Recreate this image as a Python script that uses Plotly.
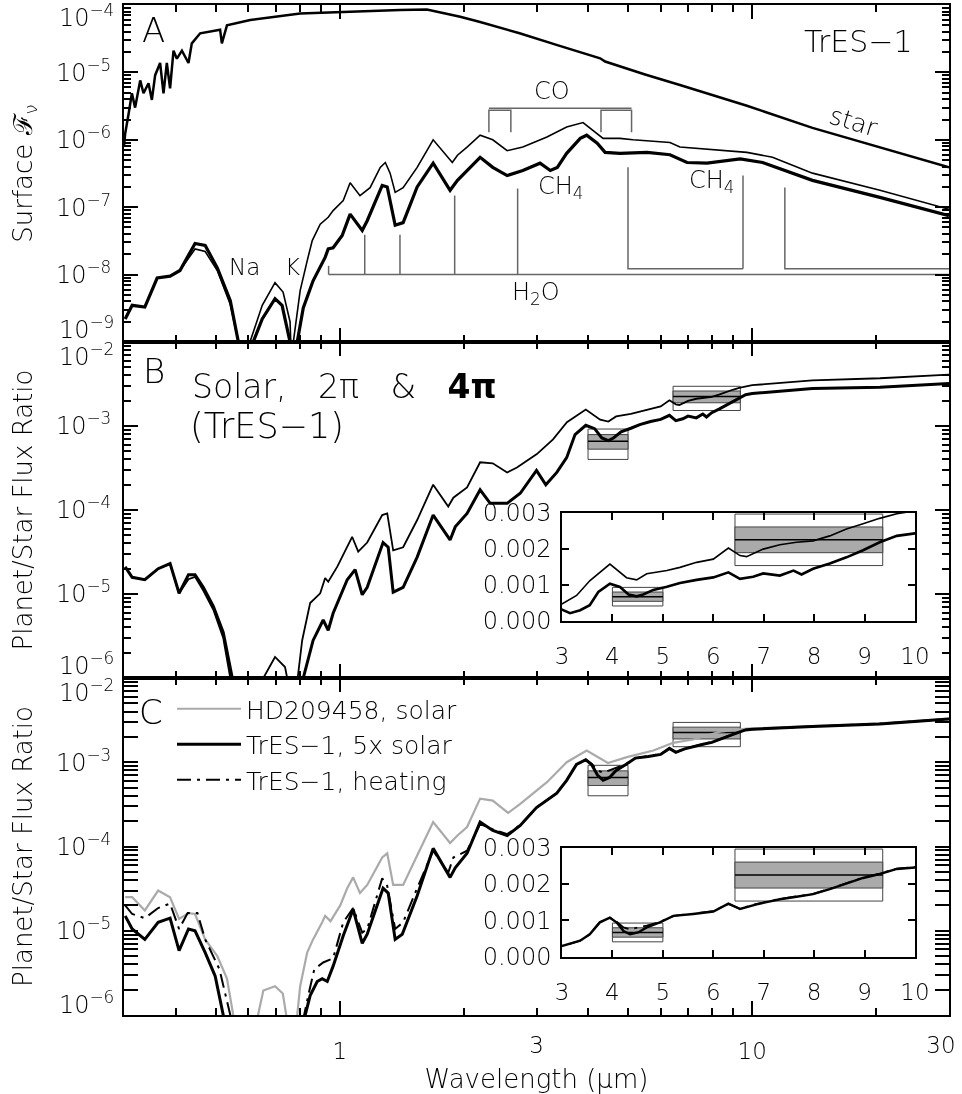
import numpy as np
import plotly.graph_objects as go

# ---------------- DATA ----------------
# Panel A: stellar surface flux
star_wl = [0.300, 0.302, 0.3077, 0.3135, 0.3192, 0.3284, 0.3345, 0.344, 0.3505, 0.357, 0.367, 0.374,
           0.381, 0.388, 0.3955, 0.403, 0.4145, 0.430, 0.438, 0.459, 0.513, 0.518, 0.533, 0.607,
           0.802, 1.003, 1.40, 1.627, 1.96, 2.19, 2.73, 3.40, 4.28, 4.40, 5.50, 6.68, 9.71, 14.0, 20.4, 30.0]
star_flux = [8e-7, 1.24e-6, 2.4e-6, 4.9e-6, 3.0e-6, 7.6e-6, 4.9e-6, 6.9e-6, 3.9e-6, 9.1e-6, 1.38e-5, 4.9e-6,
             1.38e-5, 5.8e-6, 2.1e-5, 1.6e-5, 2.1e-5, 1.38e-5, 2.7e-5, 3.8e-5, 4.3e-5, 2.7e-5, 5.0e-5, 6.0e-5,
             7.5e-5, 7.9e-5, 8.4e-5, 8.6e-5, 6.7e-5, 5.6e-5, 3.8e-5, 2.5e-5, 1.62e-5, 1.45e-5, 9.3e-6, 6.5e-6,
             3.2e-6, 1.5e-6, 7.8e-7, 3.9e-7]

# Panel A: planet surface flux, 2pi (thin) and 4pi (thick)
pA2_wl = [0.302, 0.314, 0.337, 0.361, 0.388, 0.41, 0.446, 0.472, 0.505, 0.543, 0.568, 0.59, 0.606, 0.649,
          0.697, 0.729, 0.758, 0.764, 0.772, 0.802, 0.834, 0.858, 0.897, 0.938, 0.964, 1.02, 1.06, 1.12,
          1.185, 1.254, 1.29, 1.325, 1.363, 1.425, 1.541, 1.685, 1.875, 1.93, 2.036, 2.19, 2.35, 2.547,
          2.78, 3.18, 3.55, 3.89, 4.35, 4.78, 5.14, 6.32, 6.68, 9.71, 11.2, 14.0, 20.4, 30.0]
pA2_flux = [2.2e-9, 3.5e-9, 3.3e-9, 8.9e-9, 9.5e-9, 1.15e-8, 2.4e-8, 2.2e-8, 1.15e-8, 3.6e-9, 1.0e-9, 1e-10,
            1.0e-9, 3.5e-9, 7.6e-9, 5.5e-9, 2.0e-9, 5e-10, 1.0e-9, 5.8e-9, 1.6e-8, 3.2e-8, 5.6e-8, 7.1e-8,
            8.9e-8, 1.26e-7, 2.3e-7, 1.48e-7, 1.95e-7, 3.9e-7, 4.6e-7, 3.2e-7, 1.66e-7, 1.95e-7, 3.9e-7,
            1.0e-6, 4.6e-7, 5.9e-7, 7.8e-7, 1.17e-6, 1.0e-6, 6.9e-7, 7.8e-7, 1.1e-6, 1.55e-6, 1.8e-6,
            1.05e-6, 1.05e-6, 1.0e-6, 9.1e-7, 7.8e-7, 6.5e-7, 5.5e-7, 3.2e-7, 1.78e-7, 9.3e-8]
pA4_wl = [0.302, 0.314, 0.337, 0.361, 0.388, 0.41, 0.446, 0.472, 0.505, 0.543, 0.568, 0.59, 0.617, 0.649,
          0.697, 0.725, 0.758, 0.77, 0.789, 0.816, 0.862, 0.922, 0.938, 0.964, 1.014, 1.06, 1.134, 1.166,
          1.268, 1.304, 1.363, 1.425, 1.541, 1.685, 1.852, 1.93, 2.036, 2.19, 2.35, 2.547, 2.78, 3.06,
          3.24, 3.37, 3.55, 3.83, 3.97, 4.21, 4.4, 4.78, 5.56, 6.32, 6.95, 7.77, 9.35, 10.6, 14.0, 20.4, 30.0]
pA4_flux = [2.2e-9, 3.5e-9, 3.3e-9, 8.9e-9, 9.5e-9, 1.15e-8, 2.9e-8, 2.7e-8, 1.26e-8, 4.1e-9, 1.0e-9, 1e-10,
            1.0e-9, 2.2e-9, 4.4e-9, 3.5e-9, 1.0e-9, 1e-10, 1.0e-9, 3.2e-9, 8.1e-9, 1.8e-8, 2.4e-8, 2.5e-8,
            3.8e-8, 7.9e-8, 4.5e-8, 6.3e-8, 2.1e-7, 2.0e-7, 5.4e-8, 5.9e-8, 2.0e-7, 4.5e-7, 1.78e-7, 2.5e-7,
            3.5e-7, 5.5e-7, 3.9e-7, 2.95e-7, 3.5e-7, 4.5e-7, 3.5e-7, 3.9e-7, 6.3e-7, 1.05e-6, 1.17e-6,
            8.9e-7, 6.5e-7, 6.3e-7, 6.5e-7, 6.0e-7, 4.6e-7, 4.5e-7, 5.2e-7, 4.6e-7, 2.5e-7, 1.4e-7, 7.5e-8]

# Panel B: planet/star flux ratio, 2pi (thin) and 4pi (thick)
rB2_wl = [0.302, 0.314, 0.337, 0.363, 0.388, 0.408, 0.43, 0.446, 0.467, 0.494, 0.522, 0.545, 0.56, 0.59,
          0.645, 0.653, 0.697, 0.737, 0.746, 0.76, 0.789, 0.811, 0.848, 0.897, 0.922, 0.938, 0.986, 1.043,
          1.072, 1.109, 1.166, 1.268, 1.304, 1.348, 1.425, 1.541, 1.685, 1.833, 1.886, 2.036, 2.19, 2.35,
          2.547, 2.69, 3.006, 3.29, 3.555, 3.95, 4.28, 4.48, 4.68, 5.08, 5.34, 5.67, 6.0, 6.30, 6.53,
          6.66, 6.99, 7.32, 7.65, 7.98, 8.31, 8.64, 8.97, 9.3, 9.64, 10.0, 14.0, 20.4, 30.0]
rB2 = [2.1e-5, 1.58e-5, 1.48e-5, 2.0e-5, 2.3e-5, 1.02e-5, 1.5e-5, 1.6e-5, 1.1e-5, 6.5e-6, 3.0e-6, 9e-7, 3e-7,
       1e-8, 1e-7, 1.0e-6, 1.78e-6, 1.35e-6, 1.0e-6, 1e-8, 9e-7, 2.8e-6, 7.8e-6, 1.02e-5, 1.55e-5, 1.4e-5,
       2.1e-5, 3.6e-5, 4.8e-5, 3.2e-5, 4.1e-5, 8.7e-5, 9.1e-5, 3.3e-5, 3.6e-5, 7.6e-5, 2.0e-4, 1.1e-4, 1.4e-4,
       1.86e-4, 3.7e-4, 3.6e-4, 2.8e-4, 3.2e-4, 4.63e-4, 6.94e-4, 1.11e-3, 1.57e-3, 1.19e-3, 1.13e-3, 1.3e-3,
       1.39e-3, 1.48e-3, 1.62e-3, 1.71e-3, 2.02e-3, 1.81e-3, 1.78e-3, 1.99e-3, 2.11e-3, 2.18e-3, 2.22e-3,
       2.36e-3, 2.55e-3, 2.70e-3, 2.85e-3, 2.98e-3, 3.06e-3, 3.5e-3, 3.7e-3, 4.1e-3]
rB4_wl = [0.302, 0.314, 0.337, 0.363, 0.388, 0.408, 0.43, 0.446, 0.467, 0.494, 0.522, 0.549, 0.56, 0.59,
          0.697, 0.77, 0.80, 0.816, 0.862, 0.912, 0.938, 0.964, 1.043, 1.09, 1.134, 1.166, 1.274, 1.311,
          1.348, 1.425, 1.541, 1.685, 1.852, 1.906, 2.036, 2.19, 2.317, 2.547, 2.74, 3.0, 3.16, 3.36, 3.55,
          3.72, 3.95, 4.15, 4.32, 4.48, 4.61, 4.81, 5.08, 5.34, 5.67, 6.0, 6.30, 6.53, 6.79, 6.99, 7.32,
          7.59, 7.75, 7.98, 8.31, 8.64, 8.97, 9.3, 9.64, 10.0, 14.0, 20.4, 30.0]
rB4 = [2.1e-5, 1.58e-5, 1.48e-5, 2.0e-5, 2.3e-5, 1.02e-5, 1.7e-5, 1.7e-5, 1.2e-5, 7.1e-6, 3.5e-6, 1.0e-6, 3e-7,
       1e-8, 9.5e-7, 1e-8, 3e-7, 1.0e-6, 2.8e-6, 4.9e-6, 3.7e-6, 5.9e-6, 1.48e-5, 1.95e-5, 9.8e-6, 1.2e-5,
       4.1e-5, 3.6e-5, 1.05e-5, 1.2e-5, 2.75e-5, 8.7e-5, 4.4e-5, 6.3e-5, 9.1e-5, 1.74e-4, 1.2e-4, 1.2e-4,
       1.58e-4, 2.96e-4, 2.0e-4, 2.8e-4, 4.2e-4, 7.9e-4, 1.02e-3, 9.3e-4, 7.2e-4, 6.7e-4, 7.2e-4, 8.5e-4,
       9.4e-4, 1.04e-3, 1.13e-3, 1.2e-3, 1.34e-3, 1.16e-3, 1.22e-3, 1.31e-3, 1.25e-3, 1.39e-3, 1.28e-3,
       1.44e-3, 1.59e-3, 1.76e-3, 1.96e-3, 2.18e-3, 2.36e-3, 2.43e-3, 2.8e-3, 2.9e-3, 3.2e-3]

# Panel C: HD209458 solar (gray), TrES-1 5x solar (solid), TrES-1 heating (dash-dot)
hd_wl = [0.302, 0.314, 0.337, 0.363, 0.388, 0.408, 0.43, 0.446, 0.472, 0.505, 0.533, 0.552, 0.565, 0.59,
         0.625, 0.634, 0.653, 0.697, 0.728, 0.742, 0.755, 0.78, 0.789, 0.802, 0.834, 0.862, 0.907, 0.922,
         0.95, 1.003, 1.043, 1.078, 1.12, 1.166, 1.268, 1.304, 1.348, 1.425, 1.541, 1.685, 1.852, 1.93,
         2.036, 2.19, 2.35, 2.56, 2.74, 3.18, 3.55, 3.97, 4.47, 4.97, 5.76, 6.43, 7.19, 8.35, 9.71, 14.0,
         20.4, 30.0]
hd_ratio = [2.5e-5, 2.5e-5, 1.74e-5, 3.0e-5, 2.5e-5, 1.38e-5, 1.62e-5, 1.58e-5, 7.9e-6, 5.0e-6, 2.7e-6, 1.0e-6,
            1e-7, 1e-8, 1e-8, 1.0e-6, 1.95e-6, 2.2e-6, 1.8e-6, 1.0e-6, 1e-8, 1e-8, 1.0e-6, 2.2e-6, 5.5e-6,
            7.9e-6, 1.26e-5, 1.5e-5, 1.3e-5, 2.0e-5, 3.2e-5, 4.3e-5, 2.8e-5, 3.5e-5, 7.4e-5, 8.3e-5, 3.5e-5,
            3.5e-5, 7.8e-5, 1.95e-4, 1.1e-4, 1.35e-4, 1.7e-4, 3.7e-4, 3.5e-4, 2.5e-4, 3.2e-4, 5.8e-4, 1.0e-3,
            1.38e-3, 9.8e-4, 1.15e-3, 1.38e-3, 1.7e-3, 1.86e-3, 2.3e-3, 2.5e-3, 2.7e-3, 2.9e-3, 3.3e-3]
t5_wl = [0.302, 0.314, 0.337, 0.363, 0.388, 0.408, 0.43, 0.446, 0.472, 0.499, 0.522, 0.55, 0.79, 0.825,
         0.848, 0.882, 0.907, 0.933, 0.964, 1.02, 1.078, 1.134, 1.166, 1.274, 1.311, 1.363, 1.418, 1.541,
         1.685, 1.852, 1.906, 2.036, 2.19, 2.35, 2.547, 2.74, 3.0, 3.36, 3.55, 3.75, 3.95, 4.08, 4.22, 4.35,
         4.51, 4.68, 4.94, 5.21, 5.6, 6.0, 6.30, 6.53, 6.86, 7.32, 7.65, 7.98, 8.31, 8.64, 8.97, 9.3, 9.64,
         10.0, 14.0, 20.4, 30.0]
t5_ratio = [1.5e-5, 1.05e-5, 7.9e-6, 1.26e-5, 1.41e-5, 5.8e-6, 1.05e-5, 1.0e-5, 5.5e-6, 2.9e-6, 1.0e-6, 1e-8,
            1e-8, 1.0e-6, 1.7e-6, 2.5e-6, 2.7e-6, 2.5e-6, 3.8e-6, 8.7e-6, 1.8e-5, 7.1e-6, 9.1e-6, 3.2e-5,
            2.8e-5, 7.9e-6, 9.1e-6, 2.6e-5, 9.5e-5, 4.3e-5, 5.6e-5, 8.3e-5, 1.95e-4, 1.55e-4, 1.35e-4, 1.78e-4,
            2.9e-4, 4.3e-4, 6.1e-4, 9.4e-4, 1.07e-3, 9.4e-4, 7.0e-4, 6.1e-4, 6.6e-4, 8.0e-4, 9.4e-4, 1.12e-3,
            1.17e-3, 1.24e-3, 1.46e-3, 1.31e-3, 1.44e-3, 1.58e-3, 1.65e-3, 1.72e-3, 1.86e-3, 2.02e-3,
            2.17e-3, 2.28e-3, 2.42e-3, 2.46e-3, 2.65e-3, 2.85e-3, 3.25e-3]
heat_wl = [0.302, 0.314, 0.337, 0.363, 0.388, 0.408, 0.428, 0.452, 0.472, 0.511, 0.543, 0.56, 0.79, 0.82,
           0.839, 0.868, 0.912, 0.964, 1.02, 1.078, 1.134, 1.166, 1.268, 1.304, 1.363, 1.425, 1.541, 1.685,
           1.833, 1.886, 2.036, 2.19, 2.35, 2.547, 2.74, 3.0, 3.36, 3.55, 3.75, 3.95, 4.08, 4.22, 4.35, 4.51,
           4.68, 4.94, 5.21, 5.6, 6.0, 6.30, 6.53, 6.86, 7.32, 7.65, 7.98, 8.31, 8.64, 8.97, 9.3, 9.64, 10.0,
           14.0, 20.4, 30.0]
heat_ratio = [2.0e-5, 1.58e-5, 1.41e-5, 1.86e-5, 2.1e-5, 1.05e-5, 1.62e-5, 1.62e-5, 7.9e-6, 3.5e-6, 1.0e-6,
              1e-8, 1e-8, 1.0e-6, 1.7e-6, 3.5e-6, 4.2e-6, 4.7e-6, 1.26e-5, 1.86e-5, 9.5e-6, 1.05e-5, 4.2e-5,
              3.4e-5, 1.05e-5, 1.26e-5, 3.2e-5, 8.9e-5, 4.9e-5, 7.4e-5, 8.9e-5, 1.86e-4, 1.6e-4, 1.4e-4,
              1.8e-4, 2.9e-4, 4.3e-4, 6.1e-4, 9.4e-4, 1.07e-3, 9.6e-4, 8.0e-4, 7.5e-4, 8.0e-4, 8.5e-4, 9.5e-4,
              1.12e-3, 1.18e-3, 1.25e-3, 1.45e-3, 1.32e-3, 1.45e-3, 1.59e-3, 1.66e-3, 1.73e-3, 1.87e-3,
              2.03e-3, 2.18e-3, 2.29e-3, 2.43e-3, 2.47e-3, 2.66e-3, 2.86e-3, 3.26e-3]

# Spitzer secondary-eclipse measurements (band edges in micron, ratio, 1-sigma error)
obs_lo = [4.0, 6.43]
obs_hi = [5.0, 9.36]
obs_val = [0.00066, 0.00225]
obs_err = [0.00013, 0.00036]

# Molecular band markers (micron)
h2o_lines = [0.94, 1.15, 1.40, 1.90, 2.70]
h2o_broad = [[5.0, 9.5], [12.0, 30.0]]
co_bands = [[2.3, 2.6], [4.3, 5.1]]

# ---------------- LAYOUT GEOMETRY ----------------
W, H = 962, 1094
ML, MR, MT, MB = 124, 13, 5, 79
PW, PH = W - ML - MR, H - MT - MB
FONT = "DejaVu Sans"
WT = 200


def px_x(px):
    return (px - ML) / PW


def px_y(py):
    return (H - MB - py) / PH


def fnt(size, color="black"):
    return dict(family=FONT, size=size, color=color, weight=WT)


# band-marker heights (flux units, panel A)
H2O_BASE = 1.0e-8
H2O_TOPS = [1.35e-8, 3.9e-8, 3.9e-8, 1.49e-7, 1.89e-7]
H2O_BROAD_TOPS = [[3.9e-7, 2.95e-7], [1.96e-7, None]]
H2O_BROAD_LEVEL = 1.22e-8
CO_TOP = 2.93e-6
CO_BAND_TOP = 2.74e-6
CO_FOOT = 1.29e-6

fig = go.Figure()


def line(x, y, xa, ya, width, color="black", dash="solid", name=None, legend=False):
    fig.add_trace(go.Scatter(x=x, y=y, xaxis=xa, yaxis=ya, mode="lines", name=name,
                             line=dict(color=color, width=width, dash=dash),
                             showlegend=legend, hoverinfo="skip"))


# ---- Panel A ----
hx, hy = [], []
hx += [h2o_lines[0], 30.0, None]
hy += [H2O_BASE, H2O_BASE, None]
for w, top in zip(h2o_lines, H2O_TOPS):
    hx += [w, w, None]
    hy += [H2O_BASE, top, None]
for (a, b), (ta, tb) in zip(h2o_broad, H2O_BROAD_TOPS):
    hx += [a, a, b, None]
    hy += [ta, H2O_BROAD_LEVEL, H2O_BROAD_LEVEL, None]
    if tb is not None:
        hx += [b, b, None]
        hy += [H2O_BROAD_LEVEL, tb, None]
line(hx, hy, "x", "y", 1.5, color="#666666")
cx, cy = [co_bands[0][0], co_bands[-1][1], None], [CO_TOP, CO_TOP, None]
for a, b in co_bands:
    cx += [a, a, b, b, None]
    cy += [CO_FOOT, CO_BAND_TOP, CO_BAND_TOP, CO_FOOT, None]
line(cx, cy, "x", "y", 1.5, color="#666666")

line(star_wl, star_flux, "x", "y", 2.5)
line(pA2_wl, pA2_flux, "x", "y", 1.6)
line(pA4_wl, pA4_flux, "x", "y", 3.2)


def boxes(xa, ya):
    for lo, hi, v, e in zip(obs_lo, obs_hi, obs_val, obs_err):
        fig.add_trace(go.Scatter(x=[lo, hi, hi, lo, lo], y=[v - 2 * e, v - 2 * e, v + 2 * e, v + 2 * e, v - 2 * e],
                                 xaxis=xa, yaxis=ya, mode="lines", fill="toself", fillcolor="white",
                                 line=dict(color="#444444", width=1), showlegend=False, hoverinfo="skip"))
        fig.add_trace(go.Scatter(x=[lo, hi, hi, lo, lo], y=[v - e, v - e, v + e, v + e, v - e],
                                 xaxis=xa, yaxis=ya, mode="lines", fill="toself", fillcolor="#aaaaaa",
                                 line=dict(color="#444444", width=1), showlegend=False, hoverinfo="skip"))
        line([lo, hi], [v, v], xa, ya, 1.5)


DASHDOT = "14px,6px,3px,6px"

# ---- Panel B ----
boxes("x2", "y2")
line(rB2_wl, rB2, "x2", "y2", 1.8)
line(rB4_wl, rB4, "x2", "y2", 3.0)
boxes("x4", "y4")
line(rB2_wl, rB2, "x4", "y4", 1.6)
line(rB4_wl, rB4, "x4", "y4", 2.6)

# ---- Panel C ----
boxes("x3", "y3")
line(hd_wl, hd_ratio, "x3", "y3", 2.2, color="#aaaaaa", name="HD209458, solar", legend=True)
line(t5_wl, t5_ratio, "x3", "y3", 3.0, name="TrES\u22121, 5x solar", legend=True)
line(heat_wl, heat_ratio, "x3", "y3", 2.0, dash=DASHDOT, name="TrES\u22121, heating", legend=True)
boxes("x5", "y5")
line(heat_wl, heat_ratio, "x5", "y5", 1.8, dash=DASHDOT)
line(t5_wl, t5_ratio, "x5", "y5", 2.4)

# overlay axes carrying the "3" and "30" labels
for xa in ("x6", "x7"):
    fig.add_trace(go.Scatter(x=[3.0], y=[None], xaxis=xa, yaxis="y3", mode="lines",
                             showlegend=False, hoverinfo="skip"))

# ---------------- AXES ----------------
TICKF = fnt(23)
YTICKF = fnt(24)
x_minor = [0.4, 0.5, 0.6, 0.7, 0.8, 0.9, 2, 3, 4, 5, 6, 7, 8, 9, 20]
XRANGE = [np.log10(0.3), np.log10(30)]


def xaxis(anchor, labels):
    return dict(type="log", range=XRANGE, anchor=anchor, domain=[0, 1],
                tickvals=[1, 10], ticktext=["1", "10"], showticklabels=labels, automargin=False,
                ticks="inside", ticklen=14, tickwidth=1.5, tickcolor="black",
                showline=True, linewidth=2, linecolor="black", mirror="allticks",
                showgrid=False, zeroline=False, tickfont=TICKF, ticklabelstandoff=14,
                minor=dict(tickvals=x_minor, ticks="inside", ticklen=7, tickwidth=1.5,
                           tickcolor="black", showgrid=False))


def label_axis(val, shift):
    return dict(type="log", range=XRANGE, overlaying="x3", anchor="y3", side="bottom",
                tickvals=[val], ticktext=["%g" % val], ticks="", showline=False, automargin=False,
                showgrid=False, zeroline=False, tickfont=TICKF, ticklabelstandoff=14,
                ticklabelshift=shift, ticklabeloverflow="allow")


def yaxis(lo, hi, dom, anchor, title):
    vals = [10.0 ** k for k in range(lo + 1, hi)]
    text = ["10<sup>\u2212%d</sup>" % (-k) for k in range(lo + 1, hi)]
    minor = [m * 10.0 ** k for k in range(lo, hi) for m in range(2, 10)]
    return dict(type="log", range=[lo, hi], domain=dom, anchor=anchor, automargin=False,
                tickvals=vals, ticktext=text, ticks="inside", ticklen=14, tickwidth=1.5,
                tickcolor="black", showline=True, linewidth=2, linecolor="black",
                mirror="allticks", showgrid=False, zeroline=False, tickfont=YTICKF,
                ticklabelstandoff=6,
                title=dict(text=title, font=fnt(26), standoff=16),
                minor=dict(tickvals=minor, ticks="inside", ticklen=7, tickwidth=1.5,
                           tickcolor="black", showgrid=False))


def inset_axes(anchor, dom, is_x):
    if is_x:
        return dict(range=[3, 10], domain=dom, anchor=anchor, tickvals=list(range(3, 11)),
                    automargin=False,
                    ticks="inside", ticklen=7, tickwidth=1.5, tickcolor="black",
                    showline=True, linewidth=1.5, linecolor="black", mirror="allticks",
                    showgrid=False, zeroline=False, tickfont=TICKF, ticklabelstandoff=14)
    return dict(range=[-0.00002, 0.003], domain=dom, anchor=anchor, automargin=False,
                tickvals=[0, 0.001, 0.002, 0.003], tickformat=".3f",
                ticks="inside", ticklen=7, tickwidth=1.5, tickcolor="black",
                showline=True, linewidth=1.5, linecolor="black", mirror="allticks",
                showgrid=False, zeroline=False, tickfont=YTICKF, ticklabelstandoff=4)


domA = [px_y(342), 1.0]
domB = [px_y(678), px_y(342)]
domC = [0.0, px_y(678)]
inset_x_dom = [px_x(562), px_x(915)]
insetB_y = [px_y(621), px_y(513)]
insetC_y = [px_y(957), px_y(848)]

xa3 = xaxis("y3", True)
xa3["title"] = dict(text="Wavelength (\u03bcm)", font=fnt(26), standoff=10)

fig.update_layout(
    width=W, height=H, autosize=False,
    margin=dict(l=ML, r=MR, t=MT, b=MB, autoexpand=False),
    paper_bgcolor="white", plot_bgcolor="white",
    font=fnt(20),
    hovermode=False,
    xaxis=xaxis("y", False),
    xaxis2=xaxis("y2", False),
    xaxis3=xa3,
    yaxis=yaxis(-9, -4, domA, "x", "Surface \u2131<sub>\u03bd</sub>"),
    yaxis2=yaxis(-6, -2, domB, "x2", "Planet/Star Flux Ratio"),
    yaxis3=yaxis(-6, -2, domC, "x3", "Planet/Star Flux Ratio"),
    xaxis4=inset_axes("y4", inset_x_dom, True),
    yaxis4=inset_axes("x4", insetB_y, False),
    xaxis5=inset_axes("y5", inset_x_dom, True),
    yaxis5=inset_axes("x5", insetC_y, False),
    xaxis6=label_axis(3, 0),
    xaxis7=label_axis(30, -8),
    legend=dict(x=px_x(172), y=px_y(686), xanchor="left", yanchor="top",
                font=fnt(25), bgcolor="rgba(0,0,0,0)",
                itemwidth=64, tracegroupgap=0),
)

# ---------------- TEXT ----------------
ann = []


def text(px, py, s, size, xanchor="center", angle=0):
    ann.append(dict(x=px_x(px), y=px_y(py), xref="paper", yref="paper", text=s, showarrow=False,
                    xanchor=xanchor, yanchor="middle", textangle=angle, font=fnt(size)))


text(153, 30, "A", 34)
text(154, 371, "B", 34)
text(151, 712, "C", 34)
text(858, 41, "TrES\u22121", 30)
text(853, 122, "star", 25, angle=17)
text(552, 91, "CO", 24)
text(561, 187, "CH<sub>4</sub>", 24)
text(712, 181, "CH<sub>4</sub>", 24)
text(536, 293, "H<sub>2</sub>O", 24)
text(244, 267, "Na", 23)
text(292, 267, "K", 23)
NB = "\u00a0"
text(190, 386, "Solar," + NB * 2 + " 2\u03c0" + NB * 2 + " &" + NB * 2 + " <b>4\u03c0</b>", 33, xanchor="left")
text(188, 426, "(TrES\u22121)", 35, xanchor="left")
# edge tick labels (shifted inward as in the reference)
for py, k in [(16, 4), (328, 9), (355, 2), (664, 6), (691, 2), (1003, 6)]:
    ann.append(dict(x=px_x(116), y=px_y(py), xref="paper", yref="paper",
                    text="10<sup>\u2212%d</sup>" % k, showarrow=False, xanchor="right", yanchor="middle",
                    font=YTICKF))
fig.update_layout(annotations=ann)

POST = ("document.body.style.margin='0px';"
        "var s=document.querySelectorAll('.main-svg');"
        "for(var i=0;i<s.length;i++){s[i].style.willChange='transform';}")
fig.write_html("out.html", config={"displayModeBar": False}, post_script=POST)
